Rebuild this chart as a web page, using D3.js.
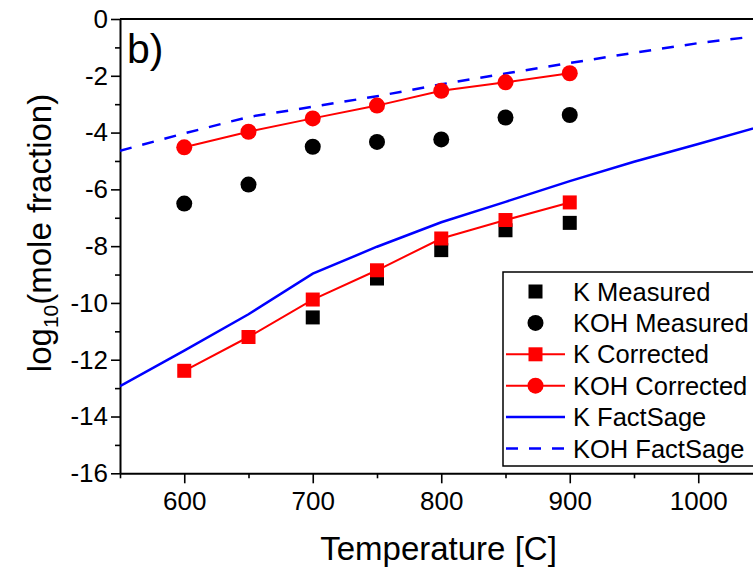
<!DOCTYPE html>
<html>
<head>
<meta charset="utf-8">
<script src="https://cdn.jsdelivr.net/npm/d3@7"></script>
<style>
  body { margin: 0; background: #fff; }
  text { font-family: Arial, "Liberation Sans", sans-serif; fill: #000; }
</style>
</head>
<body>
<svg id="chart" width="753" height="568"></svg>
<script>
// data
const temps = [600, 650, 700, 750, 800, 850, 900];
const kMeasuredTemps = [700, 750, 800, 850, 900];
const kMeasured = [-10.51, -9.14, -8.14, -7.44, -7.18];
const kohMeasured = [-6.50, -5.83, -4.50, -4.33, -4.24, -3.47, -3.38];
const kCorrected = [-12.39, -11.20, -9.88, -8.85, -7.73, -7.08, -6.46];
const kohCorrected = [-4.52, -3.97, -3.50, -3.05, -2.53, -2.23, -1.91];

const sageTemps = [550, 600, 650, 700, 750, 800, 850, 900, 950, 1000, 1050];
const kSage = [-12.93, -11.68, -10.40, -8.97, -8.02, -7.16, -6.44, -5.71, -5.03, -4.40, -3.76];
const kohSage = [-4.64, -4.03, -3.45, -3.09, -2.72, -2.30, -1.92, -1.55, -1.19, -0.85, -0.58];

const xTicks = [600, 700, 800, 900, 1000];
const xMinor = [550, 650, 750, 850, 950, 1050];
const yTicks = [0, -2, -4, -6, -8, -10, -12, -14, -16];
const yMinor = [-1, -3, -5, -7, -9, -11, -13, -15];

const legendNames = ["K Measured", "KOH Measured", "K Corrected", "KOH Corrected", "K FactSage", "KOH FactSage"];

const svg = d3.select("#chart");
const W = 753, H = 568;
const mLeft = 120, mTop = 19, mBottom = 473.3;

const x = d3.scaleLinear().domain([550, 1050]).range([mLeft, 762.5]);
const y = d3.scaleLinear().domain([-16, 0]).range([mBottom, mTop]);

const fmt = d => String(d).replace("\u2212", "-");

// clip region for the data
svg.append("clipPath").attr("id", "plot")
  .append("rect").attr("x", mLeft).attr("y", mTop).attr("width", W - mLeft).attr("height", mBottom - mTop);

// axes
svg.append("g")
  .attr("transform", "translate(0," + mBottom + ")")
  .call(d3.axisBottom(x).tickValues(xTicks).tickFormat(fmt).tickSizeInner(10).tickSizeOuter(0).tickPadding(8));
svg.append("g")
  .attr("transform", "translate(0," + mBottom + ")")
  .call(d3.axisBottom(x).tickValues(xMinor).tickFormat("").tickSizeInner(5).tickSizeOuter(0))
  .select(".domain").remove();

svg.append("g")
  .attr("transform", "translate(" + mLeft + ",0)")
  .call(d3.axisLeft(y).tickValues(yTicks).tickFormat(fmt).tickSizeInner(9).tickSizeOuter(0).tickPadding(3));
svg.append("g")
  .attr("transform", "translate(" + mLeft + ",0)")
  .call(d3.axisLeft(y).tickValues(yMinor).tickFormat("").tickSizeInner(5).tickSizeOuter(0))
  .select(".domain").remove();

svg.selectAll(".domain").attr("stroke-width", 2);
svg.selectAll(".tick line").attr("stroke-width", 1.6);
svg.selectAll(".tick text").style("font-size", "26px").attr("font-family", null);

// top frame line
svg.append("line")
  .attr("x1", mLeft).attr("x2", W).attr("y1", mTop).attr("y2", mTop)
  .attr("stroke", "#000").attr("stroke-width", 2);

const plot = svg.append("g").attr("clip-path", "url(#plot)");

const line = d3.line().x(d => x(d[0])).y(d => y(d[1]));

plot.append("path")
  .datum(sageTemps.map((t, i) => [t, kSage[i]]))
  .attr("d", line).attr("fill", "none").attr("stroke", "#0000ff").attr("stroke-width", 2.5);
plot.append("path")
  .datum(sageTemps.map((t, i) => [t, kohSage[i]]))
  .attr("d", line).attr("fill", "none").attr("stroke", "#0000ff").attr("stroke-width", 2.5)
  .attr("stroke-dasharray", "12,11");

// measured points
plot.selectAll(".km").data(kMeasuredTemps.map((t, i) => [t, kMeasured[i]])).enter()
  .append("rect").attr("class", "km")
  .attr("x", d => x(d[0]) - 7).attr("y", d => y(d[1]) - 7)
  .attr("width", 14).attr("height", 14).attr("fill", "#000");
plot.selectAll(".kohm").data(temps.map((t, i) => [t, kohMeasured[i]])).enter()
  .append("circle").attr("class", "kohm")
  .attr("cx", d => x(d[0])).attr("cy", d => y(d[1])).attr("r", 8).attr("fill", "#000");

// corrected series
const kc = temps.map((t, i) => [t, kCorrected[i]]);
const kohc = temps.map((t, i) => [t, kohCorrected[i]]);
plot.append("path").datum(kc).attr("d", line).attr("fill", "none").attr("stroke", "#ff0000").attr("stroke-width", 2);
plot.append("path").datum(kohc).attr("d", line).attr("fill", "none").attr("stroke", "#ff0000").attr("stroke-width", 2);
plot.selectAll(".kc").data(kc).enter()
  .append("rect").attr("class", "kc")
  .attr("x", d => x(d[0]) - 7).attr("y", d => y(d[1]) - 7)
  .attr("width", 14).attr("height", 14).attr("fill", "#ff0000");
plot.selectAll(".kohc").data(kohc).enter()
  .append("circle").attr("class", "kohc")
  .attr("cx", d => x(d[0])).attr("cy", d => y(d[1])).attr("r", 8).attr("fill", "#ff0000");

// panel label
svg.append("text").attr("x", 127).attr("y", 63).style("font-size", "41px").text("b)");

// axis titles
svg.append("text")
  .attr("x", 438.5).attr("y", 560).attr("text-anchor", "middle")
  .style("font-size", "33px").text("Temperature [C]");

const yt = svg.append("text")
  .attr("transform", "translate(51,233) rotate(-90)")
  .attr("text-anchor", "middle").style("font-size", "33px");
yt.append("tspan").text("log");
yt.append("tspan").attr("dy", 7).style("font-size", "21px").text("10");
yt.append("tspan").attr("dy", -7).text("(mole fraction)");

// legend
const lg = svg.append("g");
lg.append("rect")
  .attr("x", 503).attr("y", 272).attr("width", 260).attr("height", 194)
  .attr("fill", "#fff").attr("stroke", "#000").attr("stroke-width", 1.5);

const rowY = i => 291.5 + i * 31.4;
const sx0 = 506, sx1 = 565, sxm = 535.5;

legendNames.forEach((name, i) => {
  const cy = rowY(i);
  const g = lg.append("g");
  if (i === 2 || i === 3) {
    g.append("line").attr("x1", sx0).attr("x2", sx1).attr("y1", cy).attr("y2", cy)
      .attr("stroke", "#ff0000").attr("stroke-width", 2);
  }
  if (i === 4 || i === 5) {
    g.append("line").attr("x1", sx0).attr("x2", sx1).attr("y1", cy).attr("y2", cy)
      .attr("stroke", "#0000ff").attr("stroke-width", 2.5)
      .attr("stroke-dasharray", i === 5 ? "12,11" : null);
  }
  const col = i < 2 ? "#000" : "#ff0000";
  if (i === 0 || i === 2) {
    g.append("rect").attr("x", sxm - 7).attr("y", cy - 7).attr("width", 14).attr("height", 14).attr("fill", col);
  } else if (i === 1 || i === 3) {
    g.append("circle").attr("cx", sxm).attr("cy", cy).attr("r", 8).attr("fill", col);
  }
  g.append("text").attr("x", 573).attr("y", cy + 9).style("font-size", "25.5px").text(name);
});
</script>
</body>
</html>
